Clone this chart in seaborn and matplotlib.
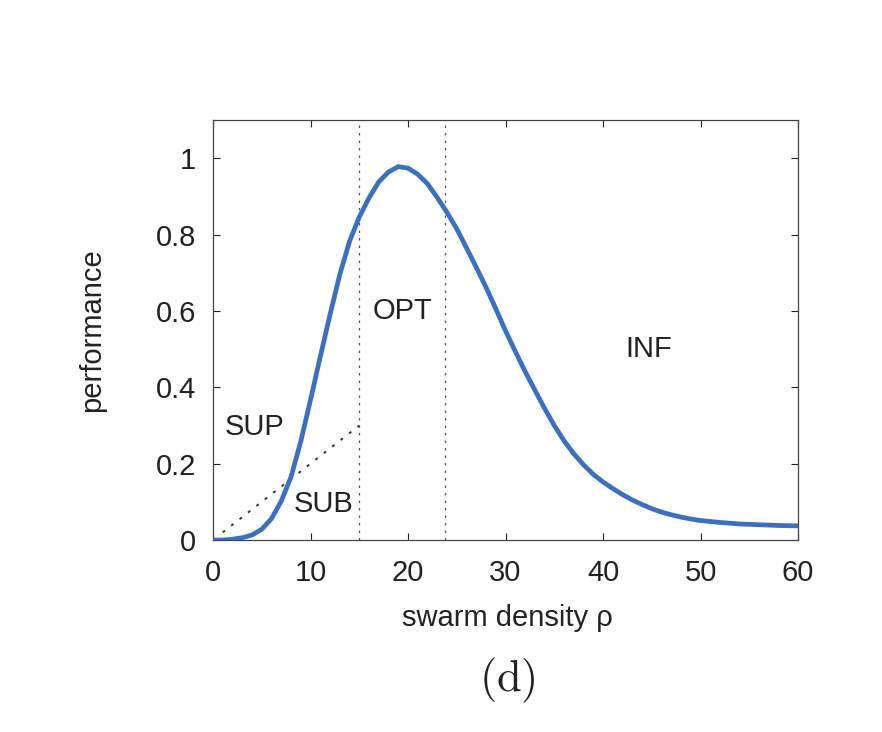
import matplotlib
matplotlib.use("Agg")
import matplotlib.pyplot as plt
import seaborn as sns
import pandas as pd

# data
density = [0, 1, 2, 3, 4, 5, 6, 7, 8, 9, 10, 11, 12, 13, 14, 15, 16, 17, 18, 19,
           20, 21, 22, 23, 24, 25, 26, 27, 28, 29, 30, 31, 32, 33, 34, 35, 36, 37,
           38, 39, 40, 41, 42, 43, 44, 45, 46, 47, 48, 49, 50, 52, 54, 56, 58, 60]
performance = [0.0, 0.0, 0.002, 0.006, 0.013, 0.028, 0.056, 0.102, 0.165, 0.258,
               0.367, 0.480, 0.590, 0.695, 0.782, 0.846, 0.896, 0.938, 0.964,
               0.978, 0.974, 0.958, 0.933, 0.897, 0.858, 0.815, 0.765, 0.714,
               0.662, 0.606, 0.548, 0.494, 0.442, 0.393, 0.345, 0.300, 0.260,
               0.226, 0.197, 0.172, 0.152, 0.135, 0.119, 0.105, 0.093, 0.082,
               0.073, 0.066, 0.060, 0.055, 0.051, 0.046, 0.042, 0.040, 0.038, 0.037]
linear_x = [1, 15]
linear_y = [0.02, 0.30]
region_bounds = [15, 23.8]
region_labels = ["SUP", "SUB", "OPT", "INF"]
label_pos_x = [1.2, 8.3, 16.4, 42.3]
label_pos_y = [0.297, 0.095, 0.60, 0.50]
xticks = [0, 10, 20, 30, 40, 50, 60]
yticks = [0, 0.2, 0.4, 0.6, 0.8, 1]
ytick_labels = ["0", "0.2", "0.4", "0.6", "0.8", "1"]

sns.set_style("ticks")
plt.rcParams["font.family"] = ["Liberation Sans", "DejaVu Sans"]
plt.rcParams["mathtext.fontset"] = "cm"

fig = plt.figure(figsize=(8.82, 7.32), dpi=100)
ax = fig.add_axes([0.2415, 0.2623, 0.6633, 0.5737])

df = pd.DataFrame({"density": density, "performance": performance})
sns.lineplot(data=df, x="density", y="performance", ax=ax, color="#3a6fc2",
             linewidth=3.4, zorder=3)
sns.lineplot(x=linear_x, y=linear_y, ax=ax, color="#333333", linewidth=1.4,
             linestyle=(0, (1.5, 4)), zorder=2)
for xb in region_bounds:
    ax.axvline(xb, color="#555555", linewidth=0.9, linestyle=(0, (2, 4)), zorder=1)

for lab, lx, ly in zip(region_labels, label_pos_x, label_pos_y):
    ax.text(lx, ly, lab, fontsize=21, color="#222222", ha="left", va="center")

ax.set_xlim(0, 60)
ax.set_ylim(0, 1.1)
ax.set_xticks(xticks)
ax.set_yticks(yticks)
ax.set_yticklabels(ytick_labels)
ax.tick_params(direction="in", top=True, right=True, length=5, width=0.8,
               labelsize=21, colors="#222222")
ax.tick_params(axis="x", pad=14)
ax.tick_params(axis="y", pad=12)
for sp in ax.spines.values():
    sp.set_visible(True)
    sp.set_linewidth(0.9)
    sp.set_color("#444444")

ax.set_xlabel("swarm density ρ", fontsize=21, color="#222222")
ax.xaxis.label.set_va("center")
ax.xaxis.set_label_coords(0.503, -0.186)
ax.set_ylabel("performance", fontsize=21, color="#222222")
ax.yaxis.label.set_va("center")
ax.yaxis.set_label_coords(-0.207, 0.5)

fig.text(0.575, 0.071, r"$\mathrm{(d)}$", fontsize=32,
         ha="center", va="center", color="#222222")

fig.savefig("out.png", dpi=100)
